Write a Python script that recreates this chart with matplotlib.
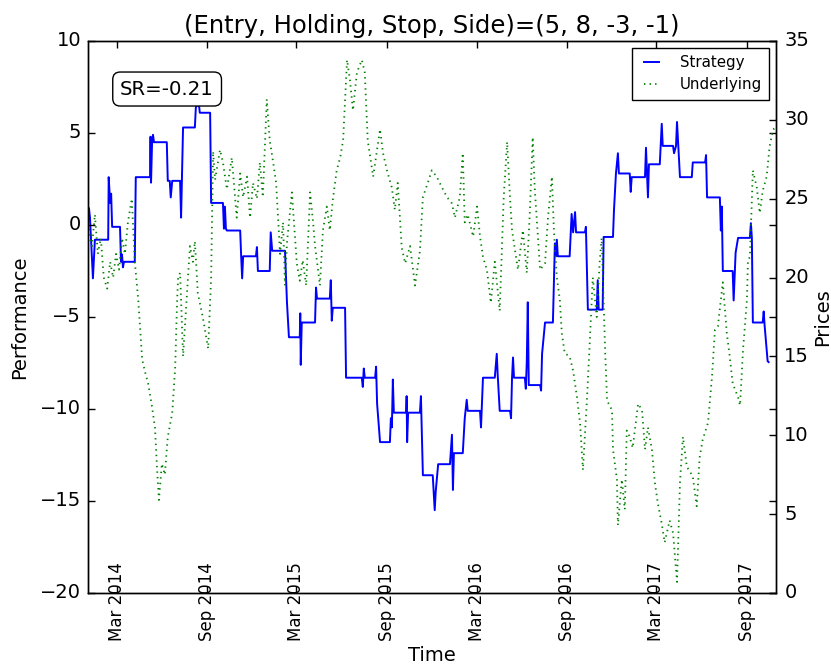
import matplotlib
matplotlib.use('Agg')
import matplotlib.pyplot as plt
import matplotlib.dates as mdates
import pandas as pd

plt.style.use('classic')
plt.rcParams['font.family'] = ['DejaVu Sans']

# ---------------- data ----------------
start_date = '2014-01-02'

# Strategy performance: calendar days since start_date, value
strategy_day = [2, 4, 10, 14, 41, 42, 45, 47, 49, 65,
                67, 69, 71, 73, 95, 97, 126, 127, 128, 130,
                132, 134, 160, 162, 166, 168, 171, 187, 189, 193,
                217, 219, 225, 227, 248, 250, 274, 276, 278, 280,
                282, 309, 311, 313, 315, 341, 343, 345, 369, 371,
                374, 400, 404, 408, 430, 431, 432, 434, 461, 463,
                465, 491, 493, 495, 497, 522, 524, 556, 558, 560,
                562, 583, 585, 587, 593, 613, 615, 617, 619, 621,
                646, 647, 648, 650, 674, 676, 680, 700, 704, 706,
                711, 735, 739, 741, 743, 761, 765, 769, 771, 796,
                798, 802, 826, 830, 832, 836, 857, 859, 861, 863,
                865, 887, 889, 891, 893, 895, 918, 920, 922, 928,
                944, 948, 950, 952, 954, 978, 982, 985, 989, 991,
                1009, 1011, 1015, 1033, 1035, 1037, 1045, 1047, 1066, 1068,
                1072, 1076, 1078, 1100, 1102, 1104, 1131, 1133, 1137, 1139,
                1161, 1165, 1167, 1188, 1190, 1194, 1196, 1202, 1226, 1228,
                1253, 1255, 1257, 1283, 1285, 1287, 1289, 1309, 1311, 1315,
                1320, 1344, 1346, 1348, 1350, 1370, 1372, 1374, 1380, 1382]
strategy_perf = [0.9, 0.4, -2.9, -0.8, -0.8, 2.6, 1.2, 1.7, -0.1, -0.1,
                 -2.0, -1.6, -2.3, -2.0, -2.0, 2.6, 2.6, 4.8, 2.3, 4.4,
                 4.9, 4.5, 4.5, 2.4, 2.4, 1.5, 2.4, 2.4, 0.4, 5.3,
                 5.3, 6.4, 6.6, 6.1, 6.1, 1.2, 1.2, -0.2, 1.0, -0.2,
                 -0.3, -0.3, -1.7, -2.9, -1.7, -1.7, -1.2, -2.5, -2.5, -0.4,
                 -1.4, -1.4, -4.2, -6.1, -6.1, -4.8, -7.6, -5.3, -5.3, -3.4,
                 -4.0, -4.0, -3.0, -5.2, -4.5, -4.5, -8.3, -8.3, -8.8, -7.8,
                 -8.3, -8.3, -7.7, -9.7, -11.8, -11.8, -10.5, -11.0, -8.4, -10.2,
                 -10.2, -9.3, -11.8, -10.2, -10.2, -9.3, -13.6, -13.6, -15.5, -14.5,
                 -13.0, -13.0, -11.4, -14.4, -12.4, -12.4, -10.5, -9.5, -10.1, -10.1,
                 -11.0, -8.3, -8.3, -7.0, -8.2, -10.1, -10.1, -10.5, -8.3, -7.2,
                 -8.3, -8.3, -8.9, -7.4, -4.2, -8.7, -8.7, -9.0, -7.0, -5.3,
                 -5.3, -1.0, -1.7, -0.8, -1.7, -1.7, 0.6, -0.4, 0.7, -0.4,
                 -0.4, -0.1, -4.6, -4.6, -3.0, -4.6, -4.6, -0.65, -0.65, 0.8,
                 2.8, 3.9, 2.8, 2.8, 1.8, 2.6, 2.6, 4.2, 1.5, 3.3,
                 3.3, 5.5, 4.3, 4.3, 3.9, 4.3, 5.6, 2.6, 2.6, 3.4,
                 3.4, 3.8, 1.5, 1.5, -0.3, 1.0, -2.5, -2.5, -4.1, -1.5,
                 -0.7, -0.7, 0.1, -0.7, -5.3, -5.3, -4.7, -5.5, -7.4, -7.45]

# Underlying price: calendar days since start_date, price
underlying_day = [0, 4, 8, 14, 20, 26, 32, 39, 45, 51,
                  57, 63, 69, 75, 81, 89, 95, 102, 110, 116,
                  122, 130, 136, 140, 144, 150, 156, 162, 171, 177,
                  181, 183, 187, 193, 201, 207, 213, 217, 223, 233,
                  244, 250, 254, 258, 268, 274, 282, 292, 302, 309,
                  315, 323, 329, 335, 343, 349, 355, 363, 369, 376,
                  382, 390, 396, 400, 404, 414, 424, 430, 436, 443,
                  451, 457, 461, 471, 477, 485, 491, 497, 505, 512,
                  518, 526, 532, 538, 546, 556, 562, 568, 579, 587,
                  593, 599, 607, 617, 623, 629, 637, 644, 654, 664,
                  674, 680, 690, 698, 708, 719, 729, 739, 745, 755,
                  761, 765, 771, 782, 790, 796, 802, 810, 818, 826,
                  836, 844, 851, 857, 861, 873, 883, 891, 897, 903,
                  907, 918, 928, 934, 942, 946, 952, 958, 962, 968,
                  978, 985, 993, 999, 1005, 1013, 1019, 1025, 1033, 1039,
                  1043, 1050, 1054, 1064, 1066, 1074, 1076, 1084, 1090, 1094,
                  1100, 1106, 1117, 1125, 1131, 1137, 1145, 1151, 1157, 1165,
                  1171, 1181, 1188, 1196, 1202, 1208, 1216, 1228, 1236, 1242,
                  1248, 1259, 1267, 1273, 1279, 1289, 1297, 1303, 1309, 1320,
                  1324, 1330, 1338, 1340, 1344, 1350, 1358, 1364, 1370, 1378,
                  1384, 1391, 1397]
underlying_price = [23.8, 22.5, 22.0, 24.0, 21.5, 22.5, 20.0, 19.3, 21.0, 20.0,
                    21.5, 20.5, 22.5, 21.5, 23.5, 25.0, 21.0, 18.6, 14.8, 14.0,
                    13.3, 11.8, 10.5, 8.0, 5.9, 8.2, 7.5, 9.9, 11.4, 14.3,
                    18.6, 20.0, 20.3, 15.0, 19.0, 22.0, 21.0, 22.3, 19.0, 17.5,
                    15.5, 20.0, 28.0, 26.2, 28.1, 27.3, 25.6, 27.6, 23.8, 26.6,
                    25.1, 26.4, 23.8, 26.0, 25.0, 27.3, 25.1, 31.3, 28.7, 27.3,
                    26.0, 21.5, 23.5, 19.5, 22.2, 25.4, 20.9, 19.8, 21.1, 19.5,
                    25.4, 23.5, 22.0, 19.5, 23.0, 24.5, 23.0, 24.9, 26.8, 27.6,
                    28.7, 33.8, 32.5, 30.6, 33.0, 33.8, 33.0, 28.7, 26.4, 28.1,
                    29.4, 27.9, 26.8, 25.7, 24.3, 26.0, 21.9, 20.9, 22.0, 19.5,
                    21.7, 25.1, 26.0, 26.8, 26.4, 25.7, 25.1, 24.7, 23.8, 25.1,
                    27.9, 23.5, 24.0, 22.6, 24.5, 22.6, 21.3, 20.5, 18.4, 21.0,
                    17.9, 25.0, 28.6, 25.0, 23.0, 20.5, 23.0, 20.3, 24.0, 28.9,
                    25.7, 20.5, 20.9, 23.8, 26.4, 23.0, 20.0, 18.6, 16.5, 15.2,
                    15.0, 14.1, 12.4, 10.8, 7.8, 12.2, 16.0, 20.0, 17.5, 21.0,
                    22.5, 15.4, 12.2, 11.6, 9.1, 7.2, 4.3, 7.2, 5.3, 10.3,
                    9.9, 9.2, 12.0, 11.6, 9.1, 10.5, 9.1, 7.0, 5.7, 4.4,
                    3.2, 4.6, 3.8, 0.7, 7.0, 9.9, 8.0, 7.4, 5.5, 8.6,
                    9.7, 10.8, 13.7, 16.7, 16.9, 19.7, 16.5, 15.0, 13.3, 12.4,
                    11.9, 15.4, 18.6, 21.1, 21.3, 26.8, 25.7, 24.1, 25.5, 26.4,
                    28.3, 29.4, 29.5]

title_text = '(Entry, Holding, Stop, Side)=(5, 8, -3, -1)'
sharpe_text = 'SR=-0.21'
series_names = ['Strategy', 'Underlying']

# ---------------- plot ----------------
base = pd.Timestamp(start_date)
s_dates = base + pd.to_timedelta(strategy_day, unit='D')
u_dates = base + pd.to_timedelta(underlying_day, unit='D')

fig = plt.figure(figsize=(8.31, 6.69), dpi=100, facecolor='white')
ax1 = fig.add_axes([88 / 831, 76 / 669, 688 / 831, 552 / 669])
ax2 = ax1.twinx()

l1, = ax1.plot(s_dates, strategy_perf, color='b', lw=1.4, label=series_names[0])
l2, = ax2.plot(u_dates, underlying_price, color='g', ls=':', lw=1.3,
               label=series_names[1])

ax1.set_ylim(-20, 10)
ax2.set_ylim(0, 35)
ax1.set_xlim(u_dates[0], u_dates[-1])
ax1.set_yticks(range(-20, 11, 5))
ax2.set_yticks(range(0, 36, 5))

ax1.xaxis.set_major_locator(mdates.MonthLocator(bymonth=[3, 9]))
ax1.xaxis.set_major_formatter(mdates.DateFormatter('%b %Y'))

for ax in (ax1, ax2):
    ax.tick_params(which='major', length=5, width=1, labelsize=14, direction='in')
    ax.tick_params(which='minor', length=0)
ax1.tick_params(axis='y', left=True, right=True, labelleft=True, labelright=False, pad=5)
ax1.tick_params(axis='x', top=True, bottom=True, pad=6, labelrotation=90, labelsize=12)
ax2.tick_params(axis='y', pad=6)
fig.canvas.draw()
for lab in ax1.get_xticklabels():
    lab.set_verticalalignment('center')

ax1.set_xlabel('Time', fontsize=14, labelpad=4)
ax1.set_ylabel('Performance', fontsize=14, labelpad=8)
ax2.set_ylabel('Prices', fontsize=14, labelpad=3)
ax1.set_title(title_text, fontsize=17.5, pad=6)

ax1.text(0.115, 0.913, sharpe_text, transform=ax1.transAxes, ha='center',
         va='center', fontsize=14.2,
         bbox=dict(boxstyle='round,pad=0.38', fc='white', ec='black', lw=1))

leg = ax2.legend([l1, l2], series_names, loc='upper right', fontsize=10.8,
                 fancybox=False, handlelength=1.6, handletextpad=1.1,
                 borderpad=0.5, labelspacing=0.45, numpoints=2,
                 borderaxespad=0.45)
leg.get_frame().set_edgecolor('black')

fig.savefig('out.png', dpi=100, facecolor='white')
